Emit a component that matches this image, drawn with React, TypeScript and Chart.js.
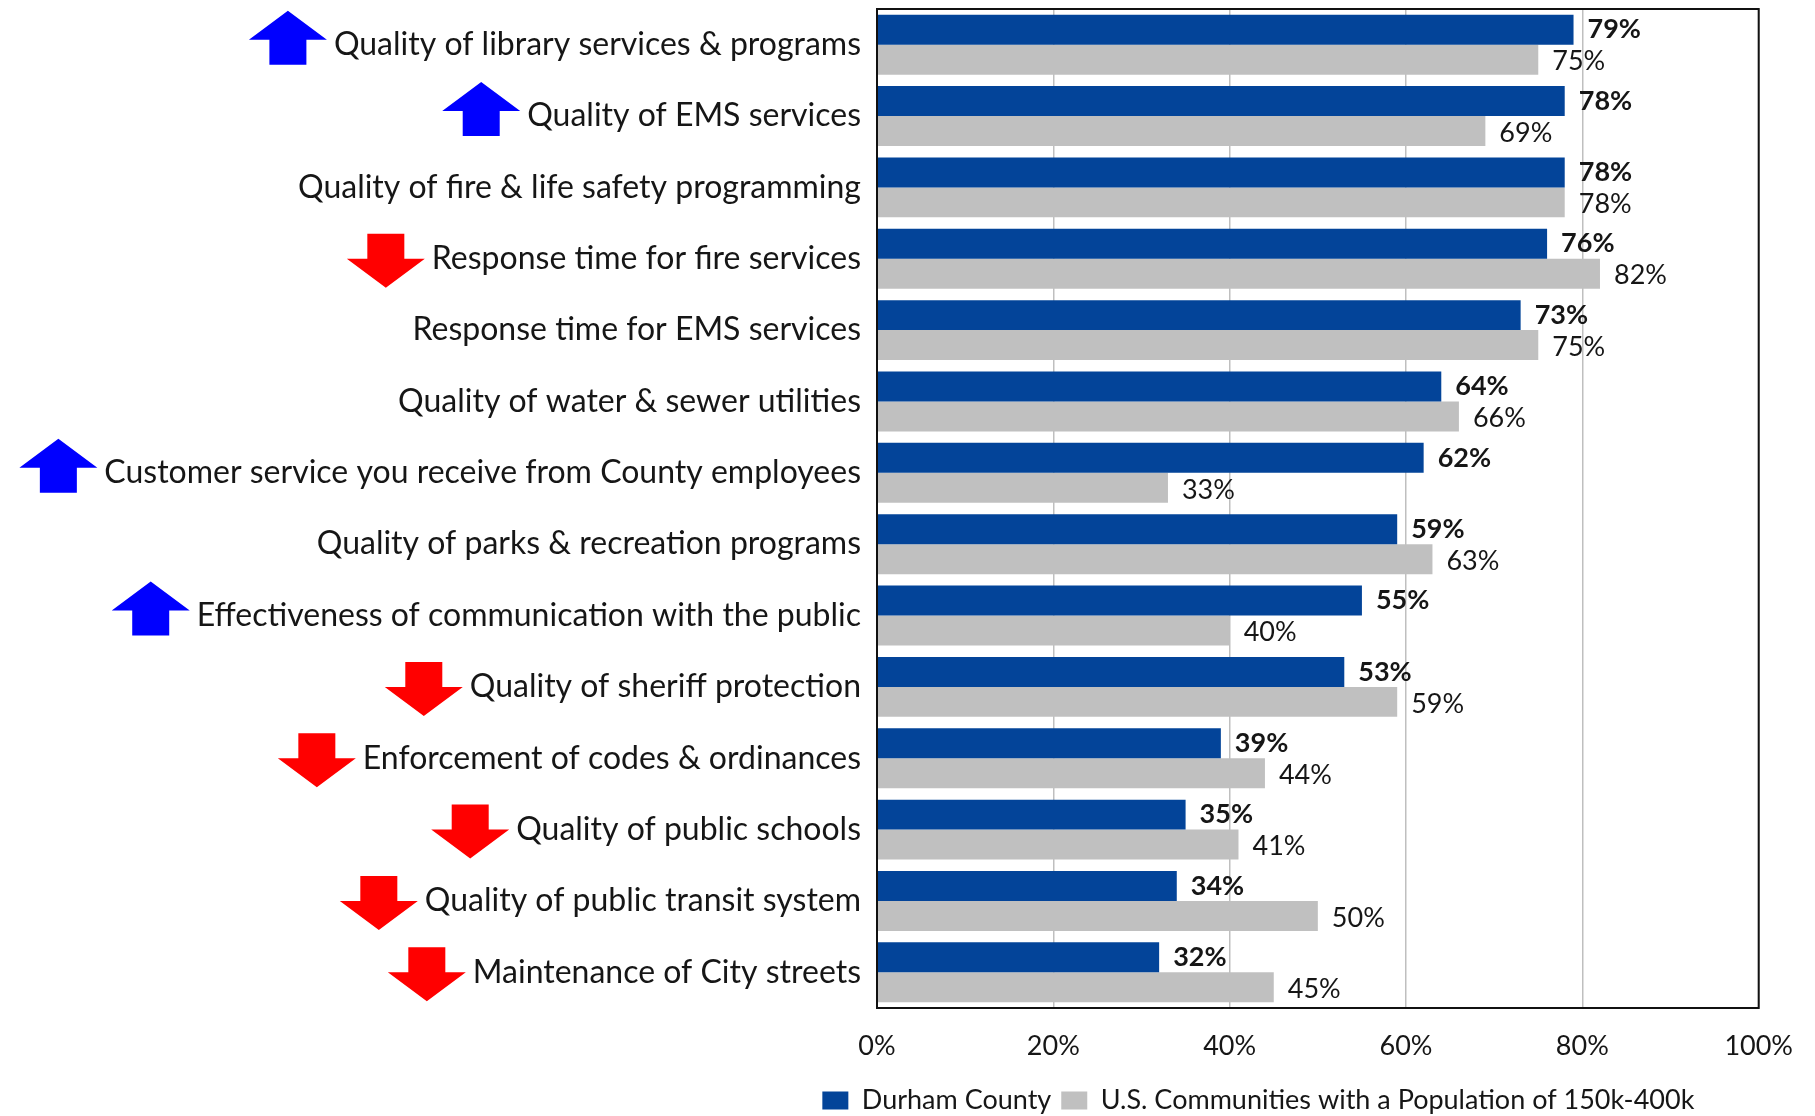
import React, { useEffect, useRef } from "react";
import { Chart, registerables } from "chart.js";

Chart.register(...registerables);

const categories = [
  "Quality of library services & programs",
  "Quality of EMS services",
  "Quality of fire & life safety programming",
  "Response time for fire services",
  "Response time for EMS services",
  "Quality of water & sewer utilities",
  "Customer service you receive from County employees",
  "Quality of parks & recreation programs",
  "Effectiveness of communication with the public",
  "Quality of sheriff protection",
  "Enforcement of codes & ordinances",
  "Quality of public schools",
  "Quality of public transit system",
  "Maintenance of City streets",
];

const durhamCounty = [79, 78, 78, 76, 73, 64, 62, 59, 55, 53, 39, 35, 34, 32];
const usCommunities = [75, 69, 78, 82, 75, 66, 33, 63, 40, 59, 44, 41, 50, 45];

// trend arrows drawn beside each category label
const trends = ["up", "up", "", "down", "", "", "up", "", "up", "down", "down", "down", "down", "down"];

const seriesNames = ["Durham County", "U.S. Communities with a Population of 150k-400k"];
const xTickValues = [0, 20, 40, 60, 80, 100];

const FONT = "Lato";
const LABEL_SIZE = 32;
const TEXT_COLOR = "#161616";
const BLUE = "#034499";
const GRAY = "#C0C0C0";

const framePlugin = {
  id: "frame",
  afterDatasetsDraw(chart: any) {
    const { ctx, chartArea } = chart;
    ctx.save();
    ctx.strokeStyle = "#111111";
    ctx.lineWidth = 2;
    ctx.strokeRect(chartArea.left, chartArea.top, chartArea.right - chartArea.left, chartArea.bottom - chartArea.top);
    ctx.restore();
  },
};

const legendPlacePlugin = {
  id: "legendPlace",
  afterLayout(chart: any) {
    const lg = chart.legend;
    if (!lg) return;
    // legend centred under the region starting at x = 758
    lg.left = 758;
    lg.right = chart.chartArea.right;
    lg.width = lg.right - lg.left;
  },
};

const valueLabelPlugin = {
  id: "valueLabels",
  afterDraw(chart: any) {
    const { ctx } = chart;
    ctx.save();
    ctx.textBaseline = "middle";
    ctx.textAlign = "left";
    ctx.fillStyle = TEXT_COLOR;
    chart.data.datasets.forEach((ds: any, di: number) => {
      const meta = chart.getDatasetMeta(di);
      ctx.font = `${di === 0 ? "bold " : ""}27px ${FONT}`;
      meta.data.forEach((el: any, i: number) => {
        ctx.fillText(`${ds.data[i]}%`, el.x + 14, el.y + (di === 0 ? 0 : 2));
      });
    });
    ctx.restore();
  },
};

const arrowPlugin = {
  id: "trendArrows",
  afterDraw(chart: any) {
    const { ctx } = chart;
    const yScale = chart.scales.y;
    const labelRight = yScale.right - 16;
    ctx.save();
    ctx.font = `${LABEL_SIZE}px ${FONT}`;
    const W = 78, H = 54, headH = 29, shaftW = 37;
    trends.forEach((t, i) => {
      if (!t) return;
      const textW = ctx.measureText(categories[i]).width;
      const right = labelRight - textW - 7;
      const cx = right - W / 2;
      const cy = yScale.getPixelForValue(i) + (t === "up" ? -7 : 2);
      const top = cy - H / 2;
      const bottom = cy + H / 2;
      ctx.beginPath();
      if (t === "up") {
        ctx.moveTo(cx, top);
        ctx.lineTo(cx + W / 2, top + headH);
        ctx.lineTo(cx + shaftW / 2, top + headH);
        ctx.lineTo(cx + shaftW / 2, bottom);
        ctx.lineTo(cx - shaftW / 2, bottom);
        ctx.lineTo(cx - shaftW / 2, top + headH);
        ctx.lineTo(cx - W / 2, top + headH);
        ctx.fillStyle = "#0000FF";
      } else {
        ctx.moveTo(cx, bottom);
        ctx.lineTo(cx + W / 2, bottom - headH);
        ctx.lineTo(cx + shaftW / 2, bottom - headH);
        ctx.lineTo(cx + shaftW / 2, top);
        ctx.lineTo(cx - shaftW / 2, top);
        ctx.lineTo(cx - shaftW / 2, bottom - headH);
        ctx.lineTo(cx - W / 2, bottom - headH);
        ctx.fillStyle = "#FF0000";
      }
      ctx.closePath();
      ctx.fill();
    });
    ctx.restore();
  },
};

export default function App() {
  const canvasRef = useRef<HTMLCanvasElement>(null);

  useEffect(() => {
    if (!canvasRef.current) return;
    Chart.defaults.font.family = FONT;
    const chart = new Chart(canvasRef.current, {
      type: "bar",
      data: {
        labels: categories,
        datasets: [
          {
            label: seriesNames[0],
            data: durhamCounty,
            backgroundColor: BLUE,
            categoryPercentage: 0.84,
            barPercentage: 1,
          },
          {
            label: seriesNames[1],
            data: usCommunities,
            backgroundColor: GRAY,
            categoryPercentage: 0.84,
            barPercentage: 1,
          },
        ],
      },
      options: {
        indexAxis: "y",
        animation: false,
        responsive: true,
        maintainAspectRatio: false,
        layout: { padding: { left: 0, right: 53, top: 9, bottom: -8 } },
        plugins: {
          legend: {
            position: "bottom",
            labels: {
              boxWidth: 26,
              boxHeight: 18,
              padding: 10,
              color: TEXT_COLOR,
              font: { size: 27, family: FONT },
            },
          },
          tooltip: { enabled: false },
        },
        scales: {
          x: {
            min: 0,
            max: 100,
            afterBuildTicks: (scale: any) => {
              scale.ticks = xTickValues.map((v) => ({ value: v }));
            },
            afterFit: (scale: any) => {
              scale.height = 69;
            },
            ticks: {
              callback: (v: any) => `${v}%`,
              color: TEXT_COLOR,
              padding: 22,
              font: { size: 27, family: FONT },
            },
            grid: { color: "#BFBFBF", lineWidth: 1.5, drawTicks: false },
            border: { display: false },
          },
          y: {
            afterFit: (scale: any) => {
              scale.width = 877;
              scale.paddingTop = 0;
              scale.paddingBottom = 0;
            },
            ticks: {
              color: TEXT_COLOR,
              padding: 16,
              autoSkip: false,
              font: { size: LABEL_SIZE, family: FONT },
            },
            grid: { display: false, drawTicks: false },
            border: { display: false },
          },
        },
      },
      plugins: [legendPlacePlugin, framePlugin, valueLabelPlugin, arrowPlugin],
    } as any);
    return () => chart.destroy();
  }, []);

  return (
    <div style={{ position: "fixed", left: 0, top: 0, width: 1815, height: 1116, background: "#ffffff" }}>
      <canvas ref={canvasRef} />
    </div>
  );
}
